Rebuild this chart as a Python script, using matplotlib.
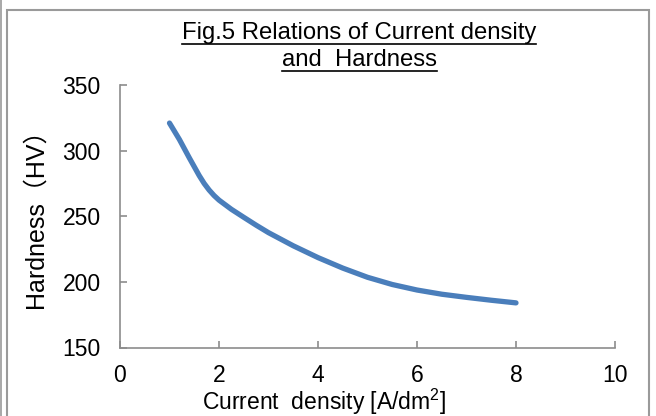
import matplotlib
matplotlib.use('Agg')
import matplotlib.pyplot as plt
from matplotlib.lines import Line2D
from matplotlib.patches import Rectangle

plt.rcParams['font.family'] = ['Liberation Sans', 'Noto Sans CJK JP']
plt.rcParams['mathtext.fontset'] = 'custom'
plt.rcParams['mathtext.rm'] = 'Liberation Sans'
plt.rcParams['mathtext.it'] = 'Liberation Sans'

# values
current_density = [1.0, 1.2, 1.4, 1.6, 1.7, 1.8, 1.9, 2.0, 2.25, 2.5, 2.75,
                   3.0, 3.5, 4.0, 4.5, 5.0, 5.5, 6.0, 6.5, 7.0, 7.5, 8.0]
hardness = [321, 308.5, 294.5, 281, 275, 270, 265.8, 262.3, 255.3, 249.2,
            243.2, 237.5, 227.5, 218.5, 210.5, 203.5, 198, 193.8, 190.6,
            188.2, 186, 184]
x_ticks = [0, 2, 4, 6, 8, 10]
y_ticks = [150, 200, 250, 300, 350]

W, H = 656, 416
fig = plt.figure(figsize=(W / 100, H / 100), dpi=100)
ax = fig.add_axes([120 / W, 1 - 347.5 / H, 495 / W, 262.5 / H])

ax.plot(current_density, hardness, color='#4a7ebb', linewidth=3.8,
        solid_capstyle='round', solid_joinstyle='round')
ax.set_xlim(0, 10)
ax.set_ylim(150, 350)
ax.set_xticks(x_ticks)
ax.set_yticks(y_ticks)

for side in ['top', 'right']:
    ax.spines[side].set_visible(False)
for side in ['left', 'bottom']:
    ax.spines[side].set_color('#8c8c8c')
    ax.spines[side].set_linewidth(1.2)
ax.tick_params(direction='in', length=5, width=1.2, color='#8c8c8c',
               labelsize=16.5, pad=14)
ax.tick_params(axis='x', pad=12)

ax.set_xlabel(r'Current  density [A/dm$^{2}$]', fontsize=16.5)
ax.xaxis.set_label_coords(0.412, -0.149)
ax.set_ylabel('Hardness（HV）', fontsize=18, va='center')
ax.yaxis.set_label_coords(-0.17, 0.515)

# title, two underlined lines
title_lines = ['Fig.5 Relations of Current density', 'and  Hardness']
baselines = [39.5, 66.5]
fig.canvas.draw()
renderer = fig.canvas.get_renderer()
for txt, yb in zip(title_lines, baselines):
    t = fig.text(359 / W, 1 - yb / H, txt, fontsize=17.2, ha='center',
                 va='baseline')
    bb = t.get_window_extent(renderer)
    yl = 1 - (yb + 4) / H
    fig.add_artist(Line2D([bb.x0 / W, bb.x1 / W], [yl, yl], color='black',
                          linewidth=1.2, transform=fig.transFigure))

# chart border
fig.add_artist(Rectangle((7 / W, -0.05), (649 - 7) / W, 1.05 - 10 / H,
                         transform=fig.transFigure, fill=False,
                         edgecolor='#9a9a9a', linewidth=1.5))
fig.add_artist(Line2D([1 / W, 1 / W], [0, 1], color='#9a9a9a',
                      linewidth=1.2, transform=fig.transFigure))

fig.savefig('out.png', dpi=100)
